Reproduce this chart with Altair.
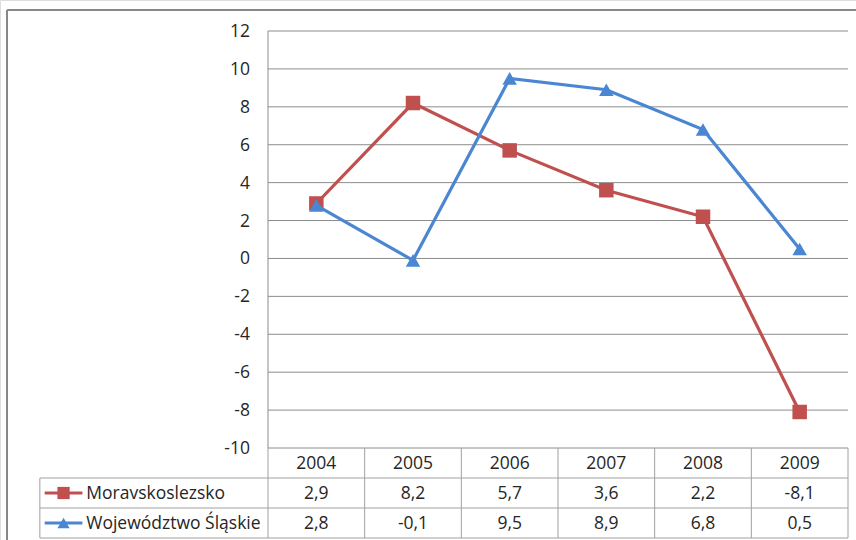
import altair as alt
import pandas as pd

# Annual values per region
years = ["2004", "2005", "2006", "2007", "2008", "2009"]
series_names = ["Moravskoslezsko", "Województwo Śląskie"]
moravskoslezsko = [2.9, 8.2, 5.7, 3.6, 2.2, -8.1]
slaskie = [2.8, -0.1, 9.5, 8.9, 6.8, 0.5]
y_ticks = [-10, -8, -6, -4, -2, 0, 2, 4, 6, 8, 10, 12]

colors = ["#C0504D", "#4A86D2"]
shapes = ["square", "triangle-up"]
FONT = "Open Sans"
FSIZE = 17.5
TXT = "#262626"
GRID = "#8c8c8c"
TABLE = "#a0a0a0"

# shared horizontal scale: one unit per year column, legend column to the left
X_DOMAIN = [0, 6]
X_RANGE = [268, 848]
LEGEND_LEFT = -2.36
x_scale = alt.Scale(domain=X_DOMAIN, range=X_RANGE)
y_plot = alt.Scale(domain=[-10, 12], range=[448, 31])
y_table = alt.Scale(domain=[0, 3], range=[448, 538])


def fmt(v):
    return f"{v:.1f}".replace(".", ",")


rows = []
for name, vals in zip(series_names, [moravskoslezsko, slaskie]):
    for i, (yr, v) in enumerate(zip(years, vals)):
        rows.append({"series": name, "year": yr, "pos": i + 0.5, "value": v})
df = pd.DataFrame(rows)

layers = []

# horizontal gridlines
grid_df = pd.DataFrame({"v": y_ticks, "x0": 0, "x1": 6})
layers.append(
    alt.Chart(grid_df).mark_rule(color=GRID, strokeWidth=1).encode(
        x=alt.X("x0:Q", scale=x_scale, axis=None),
        x2="x1:Q",
        y=alt.Y("v:Q", scale=y_plot, axis=None),
    )
)
# vertical axis line
axis_df = pd.DataFrame({"x": [0], "y0": [-10], "y1": [12]})
layers.append(
    alt.Chart(axis_df).mark_rule(color=GRID, strokeWidth=1).encode(
        x=alt.X("x:Q", scale=x_scale, axis=None),
        y=alt.Y("y0:Q", scale=y_plot, axis=None),
        y2="y1:Q",
    )
)
# y tick labels
lab_df = pd.DataFrame({"v": y_ticks, "x": 0, "t": [str(t) for t in y_ticks]})
layers.append(
    alt.Chart(lab_df).mark_text(align="right", baseline="middle", dx=-18, dy=1,
                                font=FONT, fontSize=FSIZE, color=TXT).encode(
        x=alt.X("x:Q", scale=x_scale, axis=None),
        y=alt.Y("v:Q", scale=y_plot, axis=None),
        text="t:N",
    )
)
# series lines and markers
for name, col, shp in zip(series_names, colors, shapes):
    sub = df[df.series == name]
    layers.append(
        alt.Chart(sub).mark_line(color=col, strokeWidth=3.2).encode(
            x=alt.X("pos:Q", scale=x_scale, axis=None),
            y=alt.Y("value:Q", scale=y_plot, axis=None),
            order="pos:Q",
        )
    )
    layers.append(
        alt.Chart(sub).mark_point(shape=shp, filled=True, color=col, opacity=1,
                                  size=210).encode(
            x=alt.X("pos:Q", scale=x_scale, axis=None),
            y=alt.Y("value:Q", scale=y_plot, axis=None),
        )
    )

# ---- data table under the plot ----
hl_df = pd.DataFrame({"r": [1, 2, 3], "x0": LEGEND_LEFT, "x1": 6})
layers.append(
    alt.Chart(hl_df).mark_rule(color=TABLE, strokeWidth=1).encode(
        x=alt.X("x0:Q", scale=x_scale, axis=None),
        x2="x1:Q",
        y=alt.Y("r:Q", scale=y_table, axis=None),
    )
)
vl_df = pd.DataFrame({"x": [0, 1, 2, 3, 4, 5, 6, LEGEND_LEFT],
                      "r0": [0, 0, 0, 0, 0, 0, 0, 1], "r1": 3})
layers.append(
    alt.Chart(vl_df).mark_rule(color=TABLE, strokeWidth=1).encode(
        x=alt.X("x:Q", scale=x_scale, axis=None),
        y=alt.Y("r0:Q", scale=y_table, axis=None),
        y2="r1:Q",
    )
)
head_df = pd.DataFrame({"pos": [i + 0.5 for i in range(len(years))],
                        "r": 0.5, "t": years})
layers.append(
    alt.Chart(head_df).mark_text(baseline="middle", dy=1, font=FONT,
                                 fontSize=FSIZE, color=TXT).encode(
        x=alt.X("pos:Q", scale=x_scale, axis=None),
        y=alt.Y("r:Q", scale=y_table, axis=None),
        text="t:N",
    )
)
cell_df = df.copy()
cell_df["r"] = cell_df.series.map({series_names[0]: 1.5, series_names[1]: 2.5})
cell_df["t"] = cell_df.value.map(fmt)
layers.append(
    alt.Chart(cell_df).mark_text(baseline="middle", dy=1, font=FONT,
                                 fontSize=FSIZE, color=TXT).encode(
        x=alt.X("pos:Q", scale=x_scale, axis=None),
        y=alt.Y("r:Q", scale=y_table, axis=None),
        text="t:N",
    )
)
# legend keys inside the table
leg_df = pd.DataFrame({"series": series_names, "r": [1.5, 2.5],
                       "x0": -2.31, "x1": -1.92, "xm": -2.115, "xt": -1.88})
layers.append(
    alt.Chart(leg_df).mark_text(align="left", baseline="middle", dy=1, font=FONT,
                                fontSize=FSIZE, color=TXT).encode(
        x=alt.X("xt:Q", scale=x_scale, axis=None),
        y=alt.Y("r:Q", scale=y_table, axis=None),
        text="series:N",
    )
)
for name, col, shp in zip(series_names, colors, shapes):
    sub = leg_df[leg_df.series == name]
    layers.append(
        alt.Chart(sub).mark_rule(color=col, strokeWidth=3.2).encode(
            x=alt.X("x0:Q", scale=x_scale, axis=None),
            x2="x1:Q",
            y=alt.Y("r:Q", scale=y_table, axis=None),
        )
    )
    layers.append(
        alt.Chart(sub).mark_point(shape=shp, filled=True, color=col, opacity=1,
                                  size=150).encode(
            x=alt.X("xm:Q", scale=x_scale, axis=None),
            y=alt.Y("r:Q", scale=y_table, axis=None),
        )
    )

# outer frame (top and left edges)
frame = [
    alt.Chart(pd.DataFrame({"a": [0]})).mark_rule(color="#888888", strokeWidth=2).encode(
        x=alt.value(7), x2=alt.value(856), y=alt.value(10)),
    alt.Chart(pd.DataFrame({"a": [0]})).mark_rule(color="#888888", strokeWidth=2).encode(
        x=alt.value(7), y=alt.value(10), y2=alt.value(540)),
]

chart = (
    alt.layer(*layers, *frame)
    .resolve_scale(y="independent")
    .properties(width=856, height=540, padding=0,
                autosize=alt.AutoSizeParams(type="none"))
    .configure_view(stroke=None)
    .configure(background="white")
)

chart.save("out.html", embed_options={"renderer": "svg", "actions": False})
